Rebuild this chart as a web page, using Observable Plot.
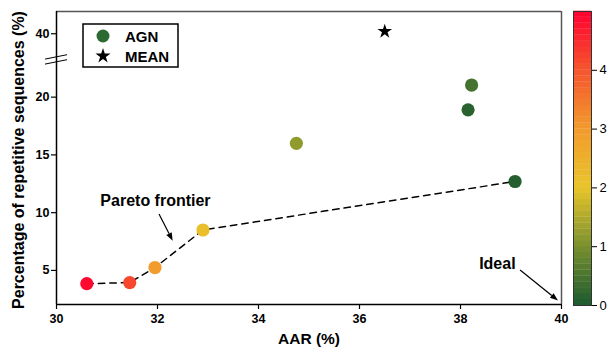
<!DOCTYPE html>
<html>
<head>
<meta charset="utf-8">
<script src="https://cdn.jsdelivr.net/npm/d3@7"></script>
<script src="https://cdn.jsdelivr.net/npm/@observablehq/plot@0.6"></script>
<style>
  html, body { margin: 0; padding: 0; background: #fff; }
  #wrap { position: relative; width: 612px; height: 356px; }
  #wrap svg { position: absolute; left: 0; top: 0; overflow: visible; }
</style>
</head>
<body>
<div id="wrap"></div>
<script>
// ---- data ----
const agnAAR   = [30.6, 31.45, 31.95, 32.9, 34.75, 38.15, 38.22, 39.08];
const agnRep   = [3.85, 3.95, 5.25, 8.5, 16.0, 18.9, 21.05, 12.7];
const agnScore = [4.9, 4.15, 2.95, 2.15, 1.2, 0.15, 0.45, 0.1];
const paretoIdx = [0, 1, 2, 3, 7];
const meanAAR = [36.5];
const meanRep = [40.2];
const xTicks = [30, 32, 34, 36, 38, 40];
const yTicks = [5, 10, 15, 20, 40];
const cbTicks = [0, 1, 2, 3, 4];
const cmapStops = [0, 1, 2, 3, 4, 5];
const cmapColors = ["#1b5a2f", "#7a902f", "#e8c52b", "#f29a2d", "#f5552e", "#ff0030"];
// annotations
const annoLabels = ["Pareto frontier", "Ideal"];
const annoX = [31.96, 38.73];
const annoY = [11.06, 5.6];
const arrowX1 = [32.04, 39.19], arrowY1 = [9.84, 5.0];
const arrowX2 = [32.31, 39.94], arrowY2 = [7.53, 2.35];

const FONT = "'Liberation Sans', Arial, Helvetica, sans-serif";
const agn = agnAAR.map((x, i) => ({x, y: agnRep[i], c: agnScore[i]}));
const pareto = paretoIdx.map(i => agn[i]);
const mean = meanAAR.map((x, i) => ({x, y: meanRep[i]}));
const annos = annoLabels.map((t, i) => ({t, x: annoX[i], y: annoY[i]}));
const arrows = arrowX1.map((x1, i) => ({x1, y1: arrowY1[i], x2: arrowX2[i], y2: arrowY2[i]}));

const colorScale = {type: "linear", domain: cmapStops, range: cmapColors};

// custom render: arrows with filled heads
function arrowMark(index, scales) {
  const g = d3.create("svg:g");
  for (const a of arrows) {
    const x1 = scales.x(a.x1), y1 = scales.y(a.y1), x2 = scales.x(a.x2), y2 = scales.y(a.y2);
    const ang = Math.atan2(y2 - y1, x2 - x1);
    const hl = 8, hw = 3;
    const bx = x2 - hl * Math.cos(ang), by = y2 - hl * Math.sin(ang);
    g.append("line").attr("x1", x1).attr("y1", y1).attr("x2", bx).attr("y2", by)
      .attr("stroke", "#000").attr("stroke-width", 1.2);
    const px = -Math.sin(ang) * hw, py = Math.cos(ang) * hw;
    g.append("path").attr("d", `M${x2},${y2}L${bx + px},${by + py}L${bx - px},${by - py}Z`).attr("fill", "#000");
  }
  return g.node();
}

// custom render: axis break marks + legend box
function decorMark(index, scales, values, dims) {
  const g = d3.create("svg:g").attr("text-anchor", "start");
  const L = dims.marginLeft, T = dims.marginTop;
  // break marks on the y axis
  const by = (scales.y(23) + scales.y(38.5)) / 2 + 3;
  for (const off of [-2.5, 2.5]) {
    g.append("line").attr("x1", L - 11).attr("y1", by + off + 2.2)
      .attr("x2", L + 11).attr("y2", by + off - 2.2)
      .attr("stroke", "#000").attr("stroke-width", 1);
  }
  // legend
  const lx = L + 27, ly = T + 13;
  g.append("rect").attr("x", lx).attr("y", ly).attr("width", 95).attr("height", 43)
    .attr("fill", "#fff").attr("stroke", "#000").attr("stroke-width", 1.5);
  g.append("circle").attr("cx", lx + 20).attr("cy", ly + 12).attr("r", 6.5).attr("fill", "#2d6a33");
  g.append("path").attr("d", d3.symbol(d3.symbolStar, 70)()).attr("transform", `translate(${lx + 20},${ly + 32})`).attr("fill", "#000");
  g.append("text").attr("x", lx + 42).attr("y", ly + 17.5).text("AGN").attr("text-anchor", "start")
    .attr("font-size", 15).attr("font-weight", "bold").attr("font-family", FONT);
  g.append("text").attr("x", lx + 42).attr("y", ly + 37.5).text("MEAN").attr("text-anchor", "start")
    .attr("font-size", 15).attr("font-weight", "bold").attr("font-family", FONT);
  return g.node();
}

const main = Plot.plot({
  width: 612, height: 356,
  marginLeft: 56, marginRight: 51, marginTop: 11, marginBottom: 52,
  style: {fontFamily: FONT, fontWeight: "bold", background: "transparent", color: "#000"},
  x: {domain: [30, 40], label: null},
  y: {type: "linear", domain: [2.05, 23, 38.5, 41.9], range: [304, 62, 50.8, 11], label: null},
  color: colorScale,
  marks: [
    Plot.ruleY([41.9], {stroke: "#555", strokeWidth: 1.5}),
    Plot.ruleX([40], {stroke: "#555", strokeWidth: 1.5}),
    Plot.ruleX([30], {stroke: "#000", strokeWidth: 1.5}),
    Plot.ruleY([2.05], {stroke: "#000", strokeWidth: 1.5}),
    Plot.axisX({ticks: xTicks, tickSize: 5, tickPadding: 5, fontSize: 12.5, tickFormat: d => d, strokeWidth: 1.2}),
    Plot.axisY({ticks: yTicks, tickSize: 5, tickPadding: 2, fontSize: 12.5, tickFormat: d => d, strokeWidth: 1.2}),
    Plot.line(pareto, {x: "x", y: "y", stroke: "#000", strokeWidth: 1.5, strokeDasharray: "6.5,5"}),
    Plot.dot(agn, {x: "x", y: "y", fill: "c", r: 6.6}),
    Plot.dot(mean, {x: "x", y: "y", symbol: "star", fill: "#000", r: 4.6}),
    Plot.text(annos, {x: "x", y: "y", text: "t", fontSize: 16, fontWeight: "bold", fill: "#000"}),
    arrowMark,
    decorMark,
    Plot.text(["AAR (%)"], {frameAnchor: "bottom", dy: 39, fontSize: 15.5, fontWeight: "bold", fill: "#000"}),
    Plot.text(["Percentage of repetitive sequences (%)"], {frameAnchor: "left", textAnchor: "middle", dx: -38, dy: 2, rotate: -90, fontSize: 16, fontWeight: "bold", fill: "#000"})
  ]
});

const bands = d3.range(0, 50).map(i => i / 10);
const cbar = Plot.plot({
  width: 612, height: 356,
  marginLeft: 573, marginRight: 21, marginTop: 11, marginBottom: 51,
  style: {fontFamily: FONT, background: "transparent", color: "#000"},
  x: {domain: [0, 1], axis: null},
  y: {domain: [0, 5], label: null},
  color: colorScale,
  marks: [
    Plot.rect(bands, {x1: 0, x2: 1, y1: d => d, y2: d => d + 0.105, fill: d => d + 0.05}),
    Plot.frame({stroke: "#333", strokeWidth: 1}),
    Plot.axisY({anchor: "right", ticks: cbTicks, tickSize: 5, tickPadding: 3, fontSize: 13, tickFormat: d => d})
  ]
});

const wrap = document.getElementById("wrap");
wrap.appendChild(main);
wrap.appendChild(cbar);
</script>
</body>
</html>
